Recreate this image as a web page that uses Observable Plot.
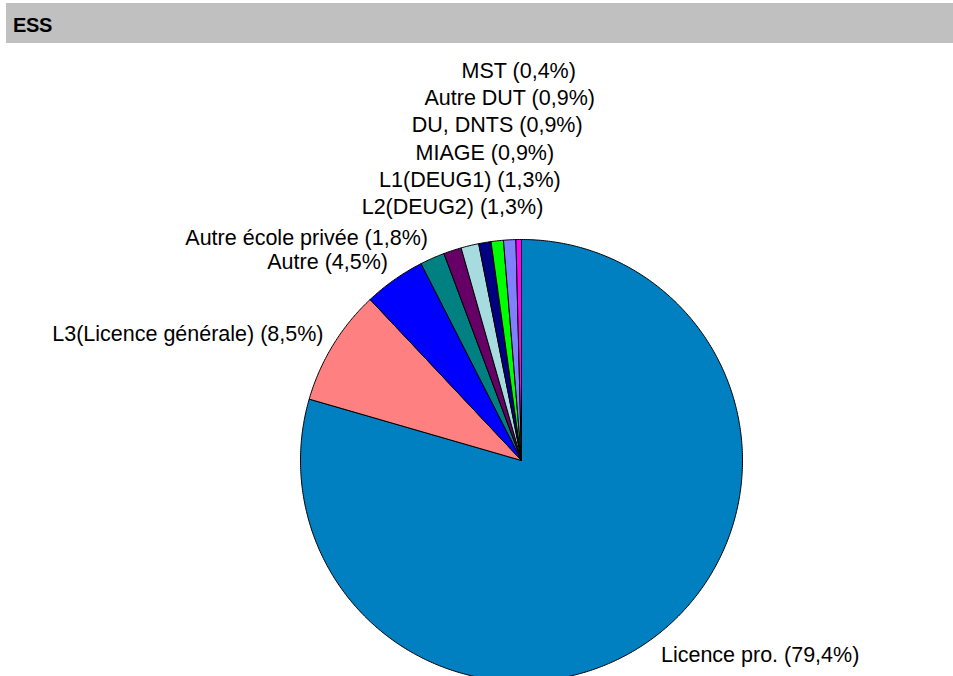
<!DOCTYPE html>
<html><head><meta charset="utf-8">
<script src="https://cdn.jsdelivr.net/npm/d3@7"></script>
<script src="https://cdn.jsdelivr.net/npm/@observablehq/plot@0.6"></script>
<style>
html,body{margin:0;padding:0;overflow:hidden;background:#fff;width:953px;height:676px;}
body{font-family:Arial,"Liberation Sans",sans-serif;}
#hdr{position:absolute;left:6px;top:3px;width:947px;height:40px;background:#c0c0c0;}
#hdr span{position:absolute;left:7px;top:0;line-height:40px;padding-top:2px;font-weight:bold;font-size:20px;letter-spacing:-0.4px;color:#000;}
#chart{position:absolute;left:0;top:43px;}
</style>
</head><body>
<div id="hdr"><span>ESS</span></div>
<div id="chart"></div>
<script>
// Data (clockwise from 12 o'clock)
const categories = ["Licence pro.", "L3(Licence générale)", "Autre", "Autre école privée", "L2(DEUG2)", "L1(DEUG1)", "MIAGE", "DU, DNTS", "Autre DUT", "MST"];
const values = [79.4, 8.5, 4.5, 1.8, 1.3, 1.3, 0.9, 0.9, 0.9, 0.4];
const colors = ["#0080C0", "#FF8080", "#0000FF", "#008080", "#660066", "#A6DCE0", "#000080", "#00FF00", "#8080FF", "#FF00FF"];

// Layout
const W = 953, H = 640, CX = 521, CY = 417, R = 221;
const STEP = 27.3; // label line spacing (px) for stacked labels

const total = d3.sum(values);
const fmt = v => v.toFixed(1).replace(".", ",");

// Build wedge polygons (data units, radius 1)
const pts = [];
const slices = [];
let acc = 0;
values.forEach((v, i) => {
  const a0 = acc / total * 2 * Math.PI;
  acc += v;
  const a1 = acc / total * 2 * Math.PI;
  slices.push({i, a0, a1, mid: (a0 + a1) / 2});
  pts.push({k: i, x: 0, y: 0, color: colors[i]});
  const n = Math.max(2, Math.ceil((a1 - a0) / (Math.PI / 360)));
  for (let j = 0; j <= n; j++) {
    const a = a0 + (a1 - a0) * j / n;
    pts.push({k: i, x: Math.sin(a), y: Math.cos(a), color: colors[i]});
  }
  pts.push({k: i, x: 0, y: 0, color: colors[i]});
});

// Labels
const labels = slices.map(s => {
  const text = `${categories[s.i]} (${fmt(values[s.i])}%)`;
  if (values[s.i] >= 1.5) {
    return {text, x: 1.05 * Math.sin(s.mid), y: 1.1 * Math.cos(s.mid), anchor: Math.sin(s.mid) >= 0 ? "start" : "end"};
  }
  const k = s.i - 4;
  return {text, x: Math.sin(s.mid), y: 1 + (32 + STEP * k) / R, anchor: "middle"};
});

const plot = Plot.plot({
  width: W, height: H,
  margin: 0,
  x: {domain: [-CX / R, (W - CX) / R], axis: null},
  y: {domain: [-(H - CY) / R, CY / R], axis: null},
  color: {type: "identity"},
  style: {fontFamily: "Arial, 'Liberation Sans', sans-serif", background: "white", overflow: "visible"},
  marks: [
    Plot.line(pts, {x: "x", y: "y", z: "k", fill: "color", stroke: "#000", strokeWidth: 1, strokeLinejoin: "miter", curve: "linear"}),
    ...["start", "end", "middle"].map(a =>
      Plot.text(labels.filter(d => d.anchor === a), {x: "x", y: "y", text: "text", textAnchor: a, fontSize: 21.5, fill: "#000"})
    )
  ]
});
document.getElementById("chart").appendChild(plot);
</script>
</body></html>
